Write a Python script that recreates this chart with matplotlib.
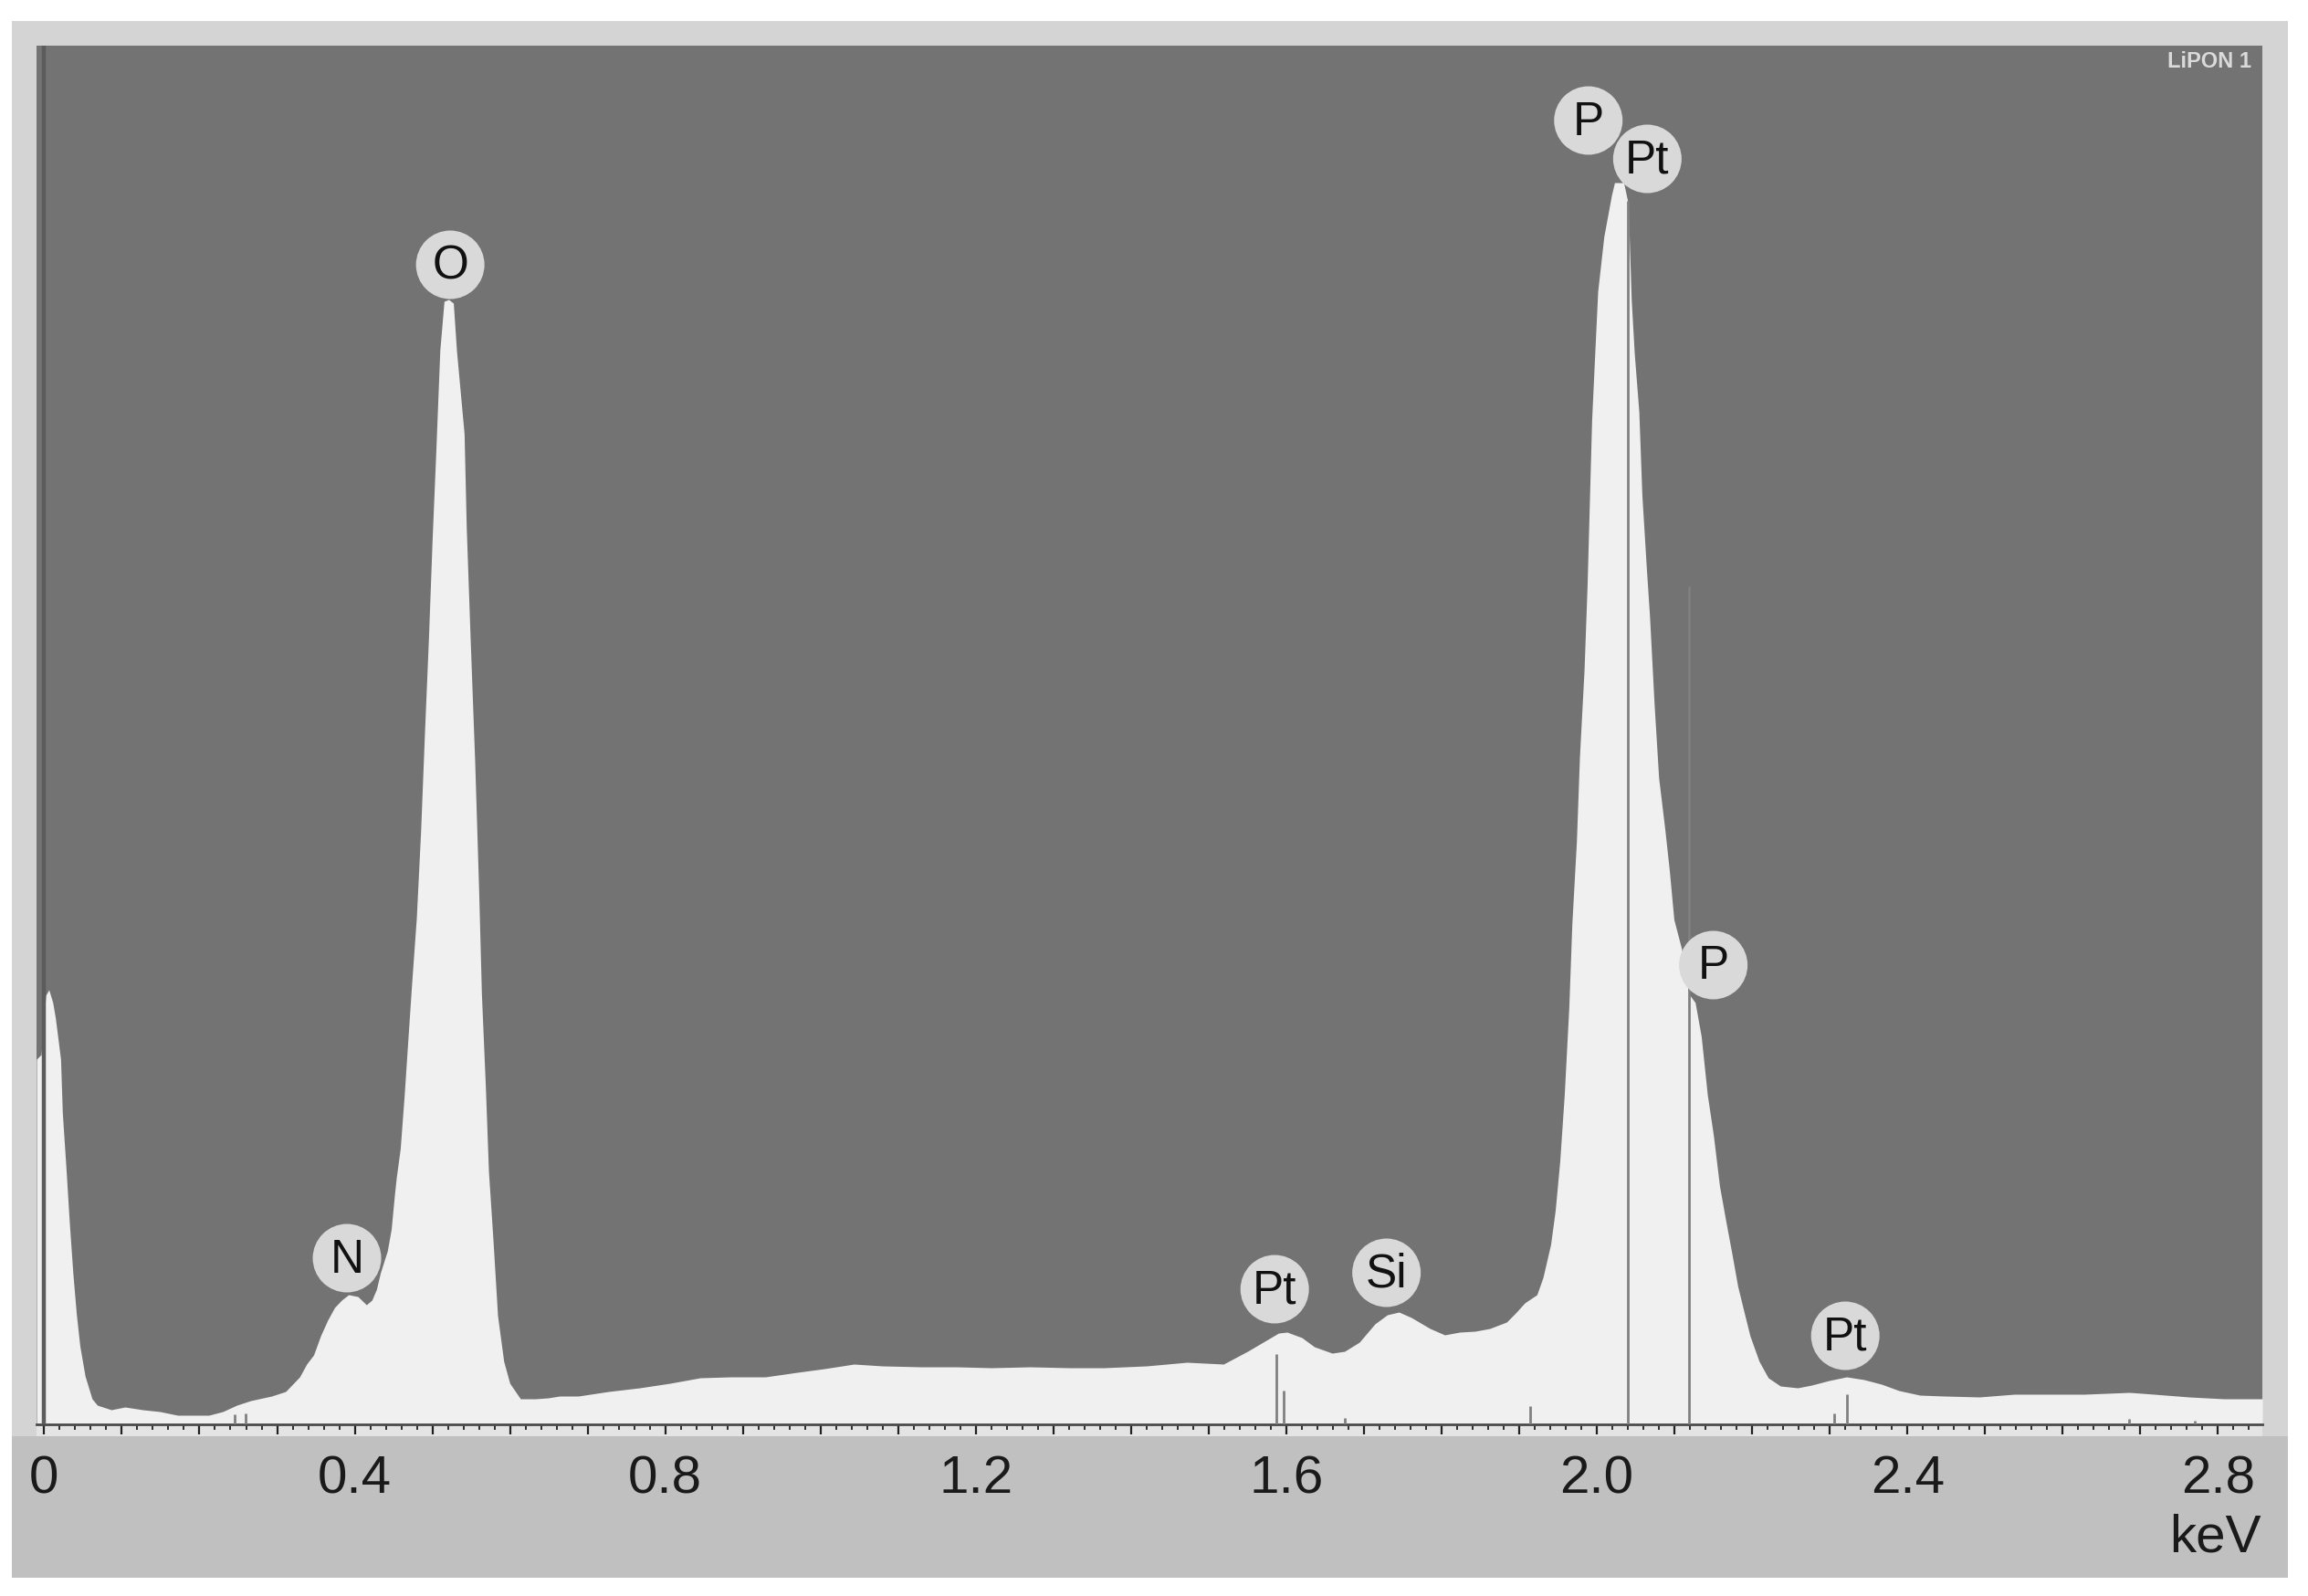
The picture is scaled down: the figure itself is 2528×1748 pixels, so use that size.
import matplotlib
matplotlib.use("Agg")
import matplotlib.pyplot as plt
import matplotlib.ticker as ticker
from matplotlib.patches import Rectangle

# EDS spectrum, energy in keV, counts in arbitrary units
energy = [-0.0099, -0.004, 0.002, 0.006, 0.011, 0.0144, 0.0211, 0.0234, 0.0279, 0.0324,
          0.0369, 0.0414, 0.0459, 0.0526, 0.0616, 0.0684, 0.0864, 0.104, 0.127, 0.149,
          0.172, 0.212, 0.230, 0.248, 0.266, 0.293, 0.311, 0.329, 0.338, 0.347,
          0.356, 0.365, 0.374, 0.383, 0.392, 0.404, 0.415, 0.422, 0.428, 0.433,
          0.442, 0.447, 0.451, 0.4535, 0.4586, 0.4637, 0.4676, 0.4731, 0.4794, 0.4849,
          0.4899, 0.495, 0.4997, 0.5044, 0.5096, 0.515, 0.521, 0.527, 0.5311, 0.5409,
          0.5437, 0.5487, 0.5546, 0.5597, 0.5632, 0.5684, 0.5723, 0.5781, 0.584, 0.5919,
          0.5997, 0.6134, 0.633, 0.649, 0.664, 0.688, 0.727, 0.767, 0.806, 0.845,
          0.884, 0.929, 0.97, 1.005, 1.043, 1.08, 1.13, 1.175, 1.22, 1.27,
          1.32, 1.365, 1.42, 1.472, 1.519, 1.550, 1.574, 1.590, 1.601, 1.620,
          1.636, 1.659, 1.675, 1.694, 1.714, 1.730, 1.745, 1.761, 1.785, 1.804,
          1.823, 1.843, 1.862, 1.8836, 1.8953, 1.907, 1.9227, 1.9306, 1.9404, 1.9463,
          1.9522, 1.958, 1.9639, 1.9678, 1.9737, 1.9776, 1.9835, 1.9874, 1.9933, 1.9973,
          2.0011, 2.009, 2.0188, 2.0227, 2.0345, 2.0403, 2.0443, 2.0482, 2.0541, 2.058,
          2.0639, 2.0678, 2.0737, 2.0796, 2.0874, 2.0933, 2.0992, 2.109, 2.1129, 2.1188,
          2.1266, 2.1344, 2.1423, 2.1502, 2.158, 2.1658, 2.1737, 2.1815, 2.1893, 2.1972,
          2.209, 2.2207, 2.2364, 2.2586, 2.2766, 2.2991, 2.3216, 2.3441, 2.3666, 2.3891,
          2.4161, 2.4476, 2.4926, 2.5376, 2.5826, 2.6276, 2.6862, 2.7177, 2.7627, 2.8077,
          2.8572]
counts = [400, 405, 470, 476, 462, 445, 400, 341, 283, 221,
          166, 121, 86, 53, 28, 21, 16, 19, 16, 14,
          10, 10, 14, 21, 26, 31, 36, 52, 66, 76,
          97, 114, 128, 136, 142, 140, 131, 136, 148, 166,
          190, 214, 250, 270, 302, 360, 410, 480, 555, 650,
          758, 861, 969, 1064, 1176, 1230, 1232, 1228, 1176, 1085,
          982, 861, 725, 584, 472, 368, 277, 202, 119, 69,
          45, 28, 28, 29, 31, 31, 36, 40, 45, 51,
          52, 52, 57, 61, 66, 64, 63, 63, 62, 63,
          62, 62, 64, 68, 66, 80, 92, 100, 101, 95,
          85, 78, 80, 90, 110, 120, 123, 117, 105, 98,
          101, 102, 105, 112, 122, 133, 142, 161, 197, 234,
          288, 361, 457, 548, 639, 731, 826, 918, 1100, 1173,
          1241, 1301, 1346, 1360, 1360, 1337, 1232, 1173, 1109, 1018,
          936, 886, 790, 708, 653, 607, 553, 521, 498, 471,
          462, 425, 361, 316, 261, 224, 188, 151, 124, 97,
          69, 51, 42, 40, 43, 48, 52, 49, 44, 37,
          32, 31, 30, 33, 33, 33, 35, 33, 30, 28,
          28]

# element marker lines
line_e = [0.245, 0.259, 1.5876, 1.5966, 1.675, 1.914, 2.040, 2.119, 2.306, 2.3225, 2.686, 2.77]
line_h = [11, 12, 77, 37, 7, 20, 1340, 918, 12, 33, 6, 4]

# peak labels
peak_names = ["N", "O", "Pt", "Si", "P", "Pt", "P", "Pt"]
peak_e = [0.390, 0.523, 1.585, 1.729, 1.989, 2.065, 2.150, 2.320]
peak_y = [182, 1270, 148, 166, 1428, 1386, 503, 97]

tick_vals = [0, 0.4, 0.8, 1.2, 1.6, 2.0, 2.4, 2.8]
tick_text = ["0", "0.4", "0.8", "1.2", "1.6", "2.0", "2.4", "2.8"]

W, H = 2528, 1748
fig = plt.figure(figsize=(W / 100, H / 100), dpi=100)
fig.patch.set_facecolor("white")

# outer frame, bottom band and the light tick strip
fig.patches.append(Rectangle((13 / W, 1 - 1728 / H), 2493 / W, 1705 / H,
                             transform=fig.transFigure, fc="#d4d4d4", ec="none", zorder=-3))
fig.patches.append(Rectangle((13 / W, 1 - 1728 / H), 2493 / W, 155 / H,
                             transform=fig.transFigure, fc="#c0c0c0", ec="none", zorder=-2))
fig.patches.append(Rectangle((40 / W, 1 - 1573 / H), 2438 / W, 13 / H,
                             transform=fig.transFigure, fc="#e4e4e4", ec="none", zorder=-1))

ax = fig.add_axes([40 / W, 1 - 1560 / H, 2438 / W, 1510 / H])
ax.set_facecolor("#737373")
ax.set_xlim(-0.0099, 2.8572)
ax.set_ylim(0, 1510)

ax.fill_between(energy, counts, 0, color="#f0f0f0", lw=0, zorder=2)
ax.axvline(0, color="#5c5c5c", lw=3.2, zorder=3)
ax.vlines(line_e, 0, line_h, color="#808080", lw=2.0, zorder=3)

ax.scatter(peak_e, peak_y, s=54 ** 2, c="#d9d9d9", edgecolors="none", zorder=5, clip_on=False)
for name, e, y in zip(peak_names, peak_e, peak_y):
    ax.text(e, y - 2, name, ha="center", va="center", fontsize=37, color="#111111",
            family=["Liberation Sans", "DejaVu Sans"], zorder=6)

for s in ["top", "left", "right"]:
    ax.spines[s].set_visible(False)
ax.spines["bottom"].set_color("#4a4a4a")
ax.spines["bottom"].set_linewidth(2)
ax.set_yticks([])

ax.xaxis.set_major_locator(ticker.MultipleLocator(0.1))
ax.xaxis.set_minor_locator(ticker.MultipleLocator(0.02))

def fmt(x, pos):
    for v, t in zip(tick_vals, tick_text):
        if abs(x - v) < 1e-6:
            return t
    return ""

ax.xaxis.set_major_formatter(ticker.FuncFormatter(fmt))
ax.tick_params(axis="x", which="major", direction="out", length=8, width=1.6,
               color="#222222", pad=16, labelsize=42, labelcolor="#1a1a1a")
ax.tick_params(axis="x", which="minor", direction="out", length=4.5, width=1.3, color="#222222")
for lab in ax.get_xticklabels():
    lab.set_family(["Liberation Sans Narrow", "Liberation Sans", "DejaVu Sans"])

fig.text(2426 / W, 1 - 1685 / H, "keV", ha="center", va="center", fontsize=42, color="#1a1a1a",
         family=["Liberation Sans Narrow", "Liberation Sans", "DejaVu Sans"])
fig.text(2466 / W, 1 - 67 / H, "LiPON 1", ha="right", va="center", fontsize=17, color="#dadada",
         weight="bold", family=["Liberation Sans Narrow", "Liberation Sans", "DejaVu Sans"])

fig.savefig("out.png", dpi=100)
